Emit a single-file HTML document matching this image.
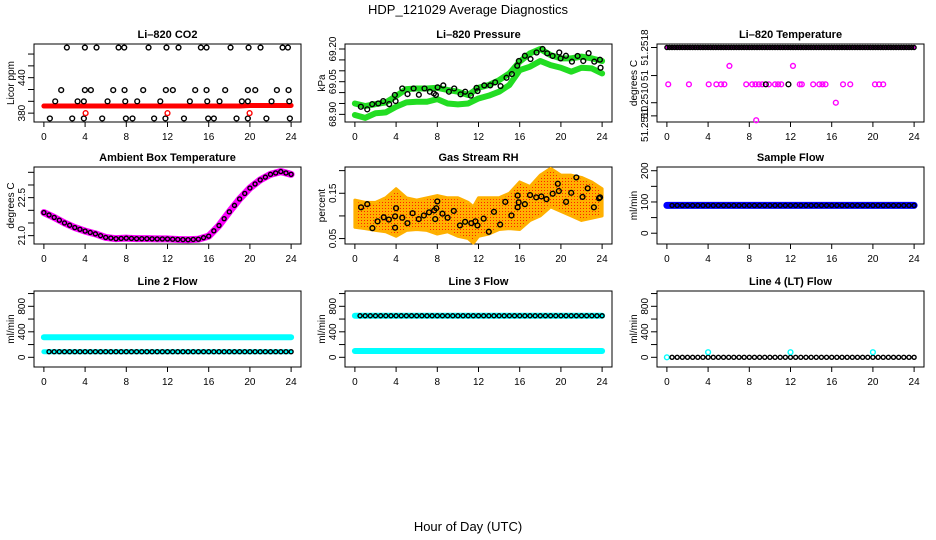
<!DOCTYPE html>
<html><head><meta charset="utf-8"><style>
html,body{margin:0;padding:0;background:#fff;width:936px;height:540px;overflow:hidden}
svg{display:block;font-family:"Liberation Sans",sans-serif}
</style></head><body>
<svg id="chart" width="936" height="540" viewBox="0 0 936 540">
<defs>
<pattern id="rhpat" width="3" height="3" patternUnits="userSpaceOnUse">
<rect width="3" height="3" fill="#ffb000"/><rect x="1" y="1" width="1" height="1" fill="#ff2000"/>
</pattern>
</defs>
<text x="468" y="14" text-anchor="middle" font-size="13">HDP_121029  Average Diagnostics</text>
<text x="468" y="531" text-anchor="middle" font-size="13">Hour of Day (UTC)</text>
</svg>
<script>
// ---- data ----
const co2Line = [392,392,392,392,392,392,392,392,392,392,392,392,392,392,392,392,392,392,392,392,393,393,393,393,393];
const co2TopX = [2.23,3.98,5.11,7.25,7.8,10.16,11.9,13.07,15.24,15.79,18.12,19.87,21.03,23.17,23.69];
const co2R419X = [1.68,3.98,4.56,6.73,7.83,9.64,11.84,12.52,14.69,15.79,17.6,19.8,20.52,22.62,23.75];
const co2R400X = [1.1,3.27,3.88,6.18,7.9,9.06,11.3,14.17,15.86,17.05,19.22,19.8,22.1,23.82];
const co2R371X = [0.58,2.75,3.88,5.66,7.96,8.6,10.7,11.8,13.6,15.95,16.5,18.7,19.8,21.6,23.88];
const co2RedX = [4.05,12.0,19.97];

const presUpper = [68.950,68.938,68.947,68.955,68.984,69.016,69.019,69.019,69.022,69.012,69.004,68.989,69.022,69.035,69.057,69.088,69.142,69.180,69.200,69.172,69.157,69.157,69.165,69.157,69.145];
const presLower = [68.897,68.884,68.905,68.909,68.935,68.955,68.958,68.958,68.970,68.950,68.946,68.950,68.973,68.986,69.004,69.035,69.103,69.119,69.145,69.126,69.114,69.096,69.114,69.111,69.088];
const presX = [0.58,1.2,1.68,2.27,2.75,3.33,3.88,3.95,4.6,5.11,5.7,6.21,6.76,7.28,7.67,7.86,8.03,8.58,9.13,9.64,10.26,10.71,11.26,11.81,11.91,12.56,13.14,13.62,14.14,14.72,15.24,15.76,15.92,16.5,17.05,17.64,18.22,18.67,19.19,19.84,19.97,20.49,21.07,21.62,22.17,22.69,23.24,23.79,23.85];
const presY = [68.935,68.923,68.947,68.950,68.961,68.947,68.989,68.961,69.019,68.993,69.019,68.990,69.019,69.004,68.996,68.989,69.024,69.033,69.004,69.019,68.992,69.004,68.986,69.022,69.007,69.033,69.033,69.047,69.030,69.068,69.085,69.123,69.145,69.169,69.154,69.184,69.200,69.180,69.168,69.184,69.157,69.169,69.142,69.168,69.145,69.181,69.142,69.151,69.114];

const tempTop = 51.2518;
const tempMidX = [0.13,2.14,4.06,4.8,5.26,5.58,7.7,8.28,8.6,8.93,9.25,9.9,10.5,10.8,11.1,12.9,13.1,14.2,14.8,15.1,15.4,17.1,17.8,20.2,20.6,21.0];
const tempMid = 51.25138;
const tempBlackX = [9.6,11.8];
const tempOutX = [6.07,12.24,16.4,8.67];
const tempOutY = [51.25159,51.25159,51.25117,51.25097];
const tempTicks = [51.2518,51.25148,51.25117,51.25102];
const tempTickLabels = ['51.2518','51','51.2510','51.2510'];

const ambY = [21.91,21.72,21.5,21.32,21.18,21.07,20.93,20.88,20.9,20.88,20.88,20.87,20.87,20.85,20.84,20.86,20.98,21.4,21.94,22.45,22.88,23.2,23.42,23.53,23.42];

const rhBandX = [0,1,2,3,4,5,6,7,8,9,10,11,11.5,12,13,14,15,16,17,18,19,20,21,22,23,24];
const rhLow = [0.075,0.072,0.068,0.065,0.055,0.068,0.07,0.068,0.06,0.065,0.055,0.05,0.04,0.055,0.06,0.07,0.072,0.07,0.09,0.10,0.12,0.11,0.10,0.09,0.095,0.10];
const rhHigh = [0.135,0.13,0.13,0.14,0.16,0.14,0.135,0.14,0.145,0.14,0.14,0.13,0.12,0.14,0.14,0.14,0.15,0.175,0.165,0.19,0.205,0.19,0.19,0.185,0.175,0.16];
const rhX = [0.6,1.2,1.7,2.2,2.8,3.3,3.9,3.9,4,4.6,5.1,5.6,6.2,6.7,7.2,7.7,7.8,7.9,8,8.5,9,9.6,10.2,10.7,11.3,11.7,11.9,12.5,13,13.5,14.1,14.6,15.2,15.8,15.8,15.9,16.5,17,17.6,18.1,18.6,19.2,19.7,19.8,20.5,21,21.5,22.1,22.6,23.2,23.7,23.8];
const rhY = [0.119,0.126,0.073,0.088,0.097,0.092,0.099,0.074,0.117,0.096,0.084,0.106,0.093,0.101,0.108,0.112,0.093,0.117,0.132,0.105,0.096,0.111,0.079,0.087,0.084,0.088,0.079,0.094,0.065,0.109,0.081,0.131,0.101,0.119,0.145,0.130,0.126,0.146,0.141,0.143,0.137,0.149,0.171,0.155,0.131,0.151,0.185,0.142,0.161,0.119,0.139,0.141];

const sampleFlow = 89;
const line2Upper = 314, line2Lower = 88;
const line3Upper = 652, line3Lower = 99;
const line4Val = 0;
const line4OutX = [4, 12, 20];
const line4OutY = [80, 80, 80];

const xTicks = [0,4,8,12,16,20,24];

// ---- layout ----
const NS = "http://www.w3.org/2000/svg";
const svg = document.getElementById('chart');
const cols = [[34,301],[345,612],[657,924]];
const rows = [[44,122],[167,244],[291,367]];
function mk(tag, attrs, parent){const e=document.createElementNS(NS,tag);for(const k in attrs)e.setAttribute(k,attrs[k]);(parent||svg).appendChild(e);return e;}

function panel(c, r, title, ylab, ymin, ymax, yTicks, yLabels, key, labelShift){
  const [x0,x1]=cols[c], [y0,y1]=rows[r];
  const g = mk('g',{});
  
  
  const xs = v => x0 + (v + 0.96)/25.92*(x1-x0);
  const ys = v => y1 - (v - ymin)/(ymax-ymin)*(y1-y0);
  const t = mk('text',{x:(x0+x1)/2,y:y0-6,'text-anchor':'middle','font-size':11,'font-weight':'bold'},g);
  t.textContent = title;
  
  
  const box = mk('rect',{x:x0,y:y0,width:x1-x0,height:y1-y0,fill:'none',stroke:'#000','stroke-width':1},g);
  
  
  const xa = mk('g',{},g);
  
  
  mk('line',{x1:xs(0),x2:xs(24),y1:y1,y2:y1,stroke:'#000'},xa);
  xTicks.forEach(v=>{
    mk('line',{x1:xs(v),x2:xs(v),y1:y1,y2:y1+5,stroke:'#000'},xa);
    const l=mk('text',{x:xs(v),y:y1+18,'text-anchor':'middle','font-size':10},xa); l.textContent=v;
  });
  const ya = mk('g',{},g);
  
  
  yTicks.forEach((v,i)=>{
    mk('line',{x1:x0-6,x2:x0,y1:ys(v),y2:ys(v),stroke:'#000'},ya);
    if(yLabels[i]){
      const cy = ys(v) + (labelShift ? labelShift[i] : 0);
      const l=mk('text',{x:x0-13,y:cy,'text-anchor':'middle','font-size':10,transform:`rotate(-90 ${x0-13} ${cy}) translate(0 4)`},ya);
      l.textContent=yLabels[i];
    }
  });
  const yl = mk('text',{x:x0-24,y:(y0+y1)/2,'text-anchor':'middle','font-size':10,transform:`rotate(-90 ${x0-24} ${(y0+y1)/2}) translate(0 4)`},g);
  yl.textContent=ylab;
  
  
  const clip = mk('g',{},g);
  return {g:clip,xs,ys};
}
function pt(p,x,y,color,name,r){const c=mk('circle',{cx:p.xs(x),cy:p.ys(y),r:r||2.4,fill:'none',stroke:color,'stroke-width':1.4},p.g);return c;}
function band(p,xsArr,ys,color,w,name){const d=xsArr.map((x,i)=>(i?'L':'M')+p.xs(x)+' '+p.ys(ys[i])).join(' ');const e=mk('path',{d,fill:'none',stroke:color,'stroke-width':w,'stroke-linejoin':'round','stroke-linecap':'round'},p.g);return e;}
const hours = Array.from({length:25},(_,i)=>i);
const dense = []; for(let i=0;i<=96;i++) dense.push(i/4);

// CO2
let p = panel(0,0,'Li–820 CO2','Licor ppm',365,497,[380,400,420,440,460,480],['380','','','440','',''],'co2');
band(p,hours,co2Line,'#ff0000',5,'co2-red-series');
co2TopX.forEach(x=>pt(p,x,491,'#000','co2-point'));
co2R419X.forEach(x=>pt(p,x,419,'#000','co2-point'));
co2R400X.forEach(x=>pt(p,x,400,'#000','co2-point'));
co2R371X.forEach(x=>pt(p,x,371,'#000','co2-point'));
co2RedX.forEach(x=>pt(p,x,380,'#ff0000','co2-red-point'));

// Pressure
p = panel(1,0,'Li–820 Pressure','kPa',68.865,69.223,[68.90,68.95,69.00,69.05,69.10,69.15,69.20],['68.90','','','69.05','','','69.20'],'pressure');
band(p,hours,presUpper,'#22dd22',6,'pressure-green-upper');
band(p,hours,presLower,'#22dd22',6,'pressure-green-lower');
presX.forEach((x,i)=>pt(p,x,presY[i],'#000','pressure-point'));

// Temperature
p = panel(2,0,'Li–820 Temperature','degrees C',51.25095,51.25184,tempTicks,tempTickLabels,'temperature',[0,0,-2,8]);
band(p,[0,24],[tempTop,tempTop],'#ff00ff',4,'temperature-magenta-top');
dense.forEach(x=>pt(p,x,tempTop,'#000','temperature-point',2));
tempMidX.forEach(x=>pt(p,x,tempMid,'#ff00ff','temperature-magenta-point'));
tempBlackX.forEach(x=>pt(p,x,tempMid,'#000','temperature-point'));
tempOutX.forEach((x,i)=>pt(p,x,tempOutY[i],'#ff00ff','temperature-outlier'));

// Ambient
p = panel(0,1,'Ambient Box Temperature','degrees C',20.67,23.71,[21.0,21.5,22.0,22.5,23.0,23.5],['21.0','','','22.5','',''],'ambient');
band(p,hours,ambY,'#ff00ff',7,'ambient-magenta-series');
dense.filter((_,i)=>i%2==0).forEach(x=>{const i=Math.min(23,Math.floor(x));const f=x-i;pt(p,x,ambY[i]*(1-f)+ambY[i+1]*f,'#000','ambient-point',2);});

// RH
p = panel(1,1,'Gas Stream RH','percent',0.038,0.208,[0.05,0.10,0.15,0.20],['0.05','','0.15',''],'rh');
const rd = rhBandX.map((x,i)=>(i?'L':'M')+p.xs(x)+' '+p.ys(rhHigh[i])).join(' ')+' '+rhBandX.slice().reverse().map((x,j)=>{const i=rhBandX.length-1-j;return 'L'+p.xs(x)+' '+p.ys(rhLow[i]);}).join(' ')+'Z';
const rb = mk('path',{d:rd,fill:'url(#rhpat)',stroke:'#ffb000','stroke-width':3,'stroke-linejoin':'round'},p.g);


rhX.forEach((x,i)=>pt(p,x,rhY[i],'#000','rh-point'));

// Sample flow
p = panel(2,1,'Sample Flow','ml/min',-34.5,211.9,[0,50,100,150,200],['0','','100','','200'],'sample-flow');
band(p,[0,24],[sampleFlow,sampleFlow],'#0000ff',7,'sample-flow-blue');
dense.filter((_,i)=>i%2==0&&i>0).forEach(x=>pt(p,x,sampleFlow,'#000','sample-flow-point',2));

// Line 2
const fT=[0,200,400,600,800,1000], fL=['0','','400','','800',''];
p = panel(0,2,'Line 2 Flow','ml/min',-152,1040,fT,fL,'line2');
band(p,[0,24],[line2Upper,line2Upper],'#00ffff',6,'line2-cyan-upper');
band(p,[0,24],[line2Lower,line2Lower],'#00ffff',5,'line2-cyan-lower');
dense.filter((_,i)=>i%2==0&&i>0).forEach(x=>pt(p,x,line2Lower,'#000','line2-point',2));

// Line 3
p = panel(1,2,'Line 3 Flow','ml/min',-152,1040,fT,fL,'line3');
band(p,[0,24],[line3Upper,line3Upper],'#00ffff',6,'line3-cyan-upper');
band(p,[0,24],[line3Lower,line3Lower],'#00ffff',6,'line3-cyan-lower');
dense.filter((_,i)=>i%2==0&&i>0).forEach(x=>pt(p,x,line3Upper,'#000','line3-point',2));

// Line 4
p = panel(2,2,'Line 4 (LT) Flow','ml/min',-152,1040,fT,fL,'line4');
pt(p,0,line4Val,'#00ffff','line4-cyan-point');
dense.filter((_,i)=>i%2==0&&i>0).forEach(x=>pt(p,x,line4Val,'#000','line4-point',2));
line4OutX.forEach((x,i)=>pt(p,x,line4OutY[i],'#00ffff','line4-outlier'));
</script>
</body></html>
